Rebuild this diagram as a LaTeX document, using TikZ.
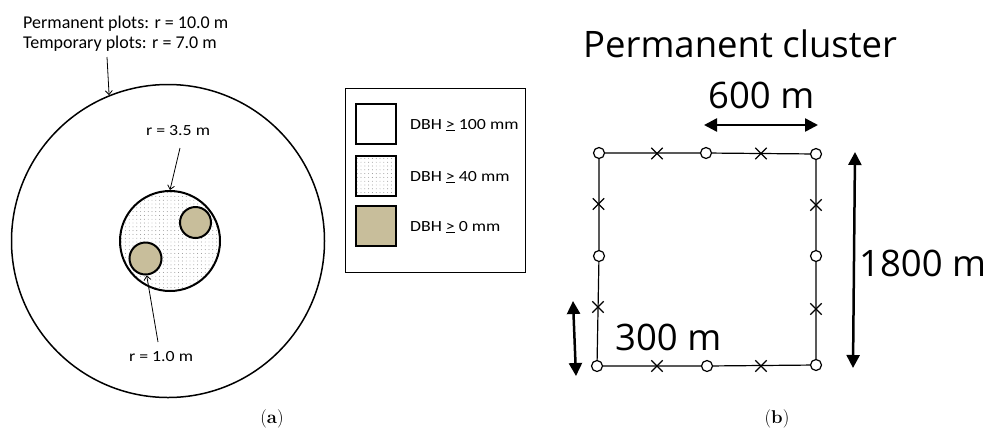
\documentclass[tikz,border=0pt]{standalone}
\usepackage{fontspec}
\newfontfamily\lfont[FakeStretch=1.15]{Carlito}
\newfontfamily\tfont{Carlito}
\newfontfamily\rfont{Open Sans}
\usetikzlibrary{arrows.meta,patterns.meta,shapes.misc}
\definecolor{dbhtan}{RGB}{200,190,155}
\begin{document}
\begin{tikzpicture}[x=1pt,y=-1pt,
  lbl/.style={font=\lfont\fontsize{15.5}{22}\selectfont, inner sep=0pt},
  toptxt/.style={font=\tfont\fontsize{18}{20}\selectfont, inner sep=0pt, anchor=base west},
  bigtxt/.style={font=\rfont\fontsize{36.5}{40}\selectfont, inner sep=0pt},
  captxt/.style={font=\fontsize{18.5}{20}\selectfont, inner sep=0pt},
  thinarrow/.style={-{Straight Barb[length=4pt,width=7pt]}, line width=0.8pt},
  dimarrow/.style={{Triangle[length=13pt,width=13pt]}-{Triangle[length=13pt,width=13pt]}, line width=2.5pt},
  plot/.style={circle, draw, inner sep=0pt},
  dotted fill/.style={pattern={Dots[distance=3.8pt,radius=0.45pt]}, pattern color=gray},
  legsq/.style={draw, line width=1.6pt, minimum size=40pt, inner sep=0pt},
  station/.style={circle, draw, fill=white, line width=1.2pt, minimum size=11pt, inner sep=0pt},
  xmark/.style={cross out, draw, line width=1.3pt, minimum size=10pt, inner sep=0pt}]
\useasboundingbox (0,0) rectangle (987,432);

% ---------- (a) ----------
\node[plot, line width=1.5pt, minimum size=313pt] (big) at (168,241) {};
\node[plot, line width=2pt, minimum size=100pt, dotted fill] (mid) at (170,241) {};
\node[plot, line width=2pt, minimum size=31pt, fill=dbhtan] (s1) at (195.5,222.5) {};
\node[plot, line width=2pt, minimum size=32pt, fill=dbhtan] (s2) at (145.5,258.5) {};

\node[toptxt] (top1) at (23,28) {Permanent plots: r = 10.0 m};
\node[toptxt] (top2) at (23,48) {Temporary plots: r = 7.0 m};
\coordinate (a1) at (107,57);
\draw[thinarrow] (a1) -- (big.112);

\node[lbl] (r35) at (178,131) {r = 3.5 m};
\coordinate (a2) at (180,148);
\draw[thinarrow] (a2) -- (mid.north);

\node[lbl] (r10) at (161,357) {r = 1.0 m};
\coordinate (a3) at (158,342);
\draw[thinarrow] (a3) -- (s2.274);

% legend
\node[draw, line width=1pt, minimum width=180pt, minimum height=184pt, inner sep=0pt] (leg) at (435,180) {};
\node[legsq, fill=white] (sq1) at (376,124) {};
\node[legsq, dotted fill] (sq2) at (376,176) {};
\node[legsq, fill=dbhtan] (sq3) at (376,226) {};
\node[lbl, anchor=west] (t1) at (410,125) {DBH \underline{>} 100 mm};
\node[lbl, anchor=west] (t2) at (410,177) {DBH \underline{>} 40 mm};
\node[lbl, anchor=west] (t3) at (410,227) {DBH \underline{>} 0 mm};

\node[captxt] (capa) at (272,419) {(\textbf{a})};

% ---------- (b) ----------
\node[bigtxt, anchor=base west] (title) at (583,57) {Permanent cluster};

\node[station] (tl) at (599,153) {};
\node[station] (tm) at (706,153) {};
\node[station] (tr) at (816,154) {};
\node[station] (rm) at (816,256) {};
\node[station] (br) at (816,365) {};
\node[station] (bm) at (707,366) {};
\node[station] (bl) at (597,366) {};
\node[station] (lm) at (599,256) {};
\draw[line width=1.2pt] (tl) -- (tm) -- (tr) -- (rm) -- (br) -- (bm) -- (bl) -- (lm) -- (tl);

\node[xmark] (x1) at (657,153.5) {};
\node[xmark] (x2) at (761,153.5) {};
\node[xmark] (x3) at (657,366) {};
\node[xmark] (x4) at (761,366) {};
\node[xmark] (x5) at (598.5,204) {};
\node[xmark] (x6) at (598,307) {};
\node[xmark] (x7) at (816,205) {};
\node[xmark] (x8) at (816,309) {};

\node[bigtxt, anchor=base west] (d600) at (708,108) {600 m};
\coordinate (h1) at (704,125);
\coordinate (h2) at (818,125);
\draw[dimarrow] (h1) -- (h2);

\node[bigtxt, anchor=base west] (d1800) at (859,276) {1800 m};
\coordinate (v1) at (855,152);
\coordinate (v2) at (853,368);
\draw[dimarrow] (v1) -- (v2);

\node[bigtxt, anchor=base west] (d300) at (615,350) {300 m};
\coordinate (w1) at (573,301);
\coordinate (w2) at (576,376);
\draw[dimarrow] (w1) -- (w2);

\node[captxt] (capb) at (777,419) {(\textbf{b})};
\end{tikzpicture}
\end{document}
